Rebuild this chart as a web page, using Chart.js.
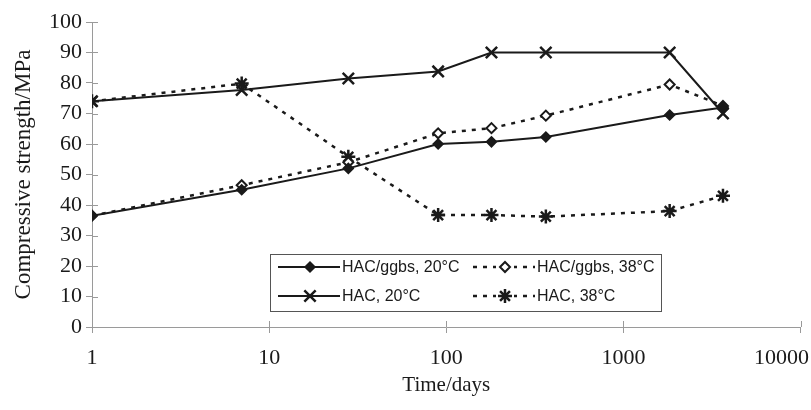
<!DOCTYPE html>
<html>
<head>
<meta charset="utf-8">
<script src="https://cdn.jsdelivr.net/npm/chart.js@4"></script>
<style>
  body { margin: 0; background: #fff; }
  #wrap { width: 811px; height: 410px; }
</style>
</head>
<body>
<div id="wrap"><canvas id="strengthChart" width="811" height="410"></canvas></div>
<script>
// Ages of testing (days) and compressive strength (MPa)
const days = [1, 7, 28, 90, 180, 365, 1825, 3650];
const ggbs20 = [36.5, 45, 52, 60, 60.7, 62.3, 69.5, 72];
const ggbs38 = [36.5, 46.5, 54, 63.5, 65.2, 69.3, 79.5, 72.5];
const hac20 = [74, 77.7, 81.5, 83.8, 90, 90, 90, 70];
const hac38 = [74, 79.8, 55.8, 36.7, 36.7, 36.2, 38, 43];
const seriesLabels = ["HAC/ggbs, 20°C", "HAC/ggbs, 38°C", "HAC, 20°C", "HAC, 38°C"];
const xTicks = [1, 10, 100, 1000, 10000];

const ink = "#1a1a1a";
const axisGrey = "#9a9a9a";
const serif = "'Liberation Serif', 'DejaVu Serif', serif";

function toPoints(vals) {
    return days.map((d, i) => ({ x: d, y: vals[i] }));
}

// Ticks crossing the axis lines + x labels kept inside the canvas
const crossTicks = {
    id: "crossTicks",
    afterDatasetsDraw(chart) {
        const ctx = chart.ctx;
        const area = chart.chartArea;
        const xs = chart.scales.x;
        const ys = chart.scales.y;
        ctx.save();
        ctx.strokeStyle = axisGrey;
        ctx.lineWidth = 1;
        ctx.beginPath();
        xTicks.forEach((t) => {
            const px = Math.round(xs.getPixelForValue(t)) + 0.5;
            ctx.moveTo(px, area.bottom - 6);
            ctx.lineTo(px, area.bottom);
        });
        for (let v = 0; v <= 100; v += 10) {
            const py = Math.round(ys.getPixelForValue(v)) + 0.5;
            ctx.moveTo(area.left, py);
            ctx.lineTo(area.left + 6, py);
        }
        ctx.stroke();

        ctx.fillStyle = ink;
        ctx.font = "22px " + serif;
        ctx.textBaseline = "middle";
        ctx.textAlign = "center";
        xTicks.forEach((t) => {
            const label = String(t);
            const w = ctx.measureText(label).width;
            let px = xs.getPixelForValue(t);
            px = Math.min(px, chart.width - 2 - w / 2);
            ctx.fillText(label, px, area.bottom + 31);
        });
        ctx.restore();
    },
};

// Boxed legend sitting inside the plot
const boxLegend = {
    id: "boxLegend",
    afterDraw(chart) {
        const ctx = chart.ctx;
        const box = { x: 270, y: 254, w: 391, h: 57 };
        ctx.save();
        ctx.fillStyle = "#fff";
        ctx.fillRect(box.x, box.y, box.w, box.h);
        ctx.strokeStyle = "#555";
        ctx.lineWidth = 1;
        ctx.strokeRect(box.x + 0.5, box.y + 0.5, box.w, box.h);

        const cols = [278, 473];
        const rows = [267, 296];
        chart.data.datasets.forEach((ds, i) => {
            const cx = cols[i % 2];
            const cy = rows[Math.floor(i / 2)];
            ctx.strokeStyle = ink;
            ctx.lineWidth = ds.borderWidth;
            ctx.setLineDash(ds.borderDash || []);
            ctx.beginPath();
            ctx.moveTo(cx, cy);
            ctx.lineTo(cx + 62, cy);
            ctx.stroke();
            ctx.setLineDash([]);
            if (ds.borderDash) {
                ctx.fillStyle = "#fff";
                ctx.fillRect(cx + 23, cy - 7, 18, 14);
            }
            ctx.fillStyle = ds.pointBackgroundColor;
            ctx.lineWidth = ds.pointBorderWidth;
            Chart.helpers.drawPoint(ctx, {
                pointStyle: ds.pointStyle,
                radius: ds.pointRadius,
                rotation: 0,
                borderWidth: ds.pointBorderWidth,
            }, cx + 32, cy);
            ctx.fillStyle = ink;
            ctx.font = "16px 'Liberation Sans', Arial, sans-serif";
            ctx.textBaseline = "middle";
            ctx.textAlign = "left";
            ctx.fillText(ds.label, cx + 64, cy + 1);
        });
        ctx.restore();
    },
};

const ctx = document.getElementById("strengthChart").getContext("2d");
new Chart(ctx, {
    type: "scatter",
    data: {
        datasets: [
            {
                label: seriesLabels[0],
                data: toPoints(ggbs20),
                showLine: true,
                borderColor: ink,
                borderWidth: 2,
                pointStyle: "rectRot",
                pointRadius: 5,
                pointBackgroundColor: ink,
                pointBorderColor: ink,
                pointBorderWidth: 1.5,
            },
            {
                label: seriesLabels[1],
                data: toPoints(ggbs38),
                showLine: true,
                borderColor: ink,
                borderWidth: 2.5,
                borderDash: [4, 6],
                pointStyle: "rectRot",
                pointRadius: 5,
                pointBackgroundColor: "#fff",
                pointBorderColor: ink,
                pointBorderWidth: 2,
            },
            {
                label: seriesLabels[2],
                data: toPoints(hac20),
                showLine: true,
                borderColor: ink,
                borderWidth: 2,
                pointStyle: "crossRot",
                pointRadius: 8,
                pointBackgroundColor: ink,
                pointBorderColor: ink,
                pointBorderWidth: 2.5,
            },
            {
                label: seriesLabels[3],
                data: toPoints(hac38),
                showLine: true,
                borderColor: ink,
                borderWidth: 2.5,
                borderDash: [4, 6],
                pointStyle: "star",
                pointRadius: 7,
                pointBackgroundColor: ink,
                pointBorderColor: ink,
                pointBorderWidth: 2.5,
            },
        ],
    },
    options: {
        responsive: false,
        animation: false,
        layout: { padding: { left: 6, right: 6, top: 22, bottom: 12 } },
        plugins: {
            legend: { display: false },
            tooltip: { enabled: false },
        },
        scales: {
            x: {
                type: "logarithmic",
                min: 1,
                max: 10000,
                afterBuildTicks: (scale) => {
                    scale.ticks = xTicks.map((v) => ({ value: v }));
                },
                afterFit: (scale) => {
                    scale.height = 71;
                    scale.paddingLeft = 0;
                    scale.paddingRight = 0;
                },
                ticks: { display: false },
                grid: { drawOnChartArea: false, tickLength: 6, color: axisGrey },
                border: { color: axisGrey },
                title: {
                    display: true,
                    text: "Time/days",
                    color: ink,
                    font: { family: serif, size: 21 },
                    padding: { top: 2, bottom: 0 },
                },
            },
            y: {
                min: 0,
                max: 100,
                afterFit: (scale) => { scale.width = 86; },
                ticks: {
                    stepSize: 10,
                    color: ink,
                    font: { family: serif, size: 22 },
                    padding: 4,
                },
                grid: { drawOnChartArea: false, tickLength: 6, color: axisGrey },
                border: { color: axisGrey },
                title: {
                    display: true,
                    text: "Compressive strength/MPa",
                    color: ink,
                    font: { family: serif, size: 23 },
                    padding: { top: 4, bottom: 4 },
                },
            },
        },
    },
    plugins: [crossTicks, boxLegend],
});
</script>
</body>
</html>
